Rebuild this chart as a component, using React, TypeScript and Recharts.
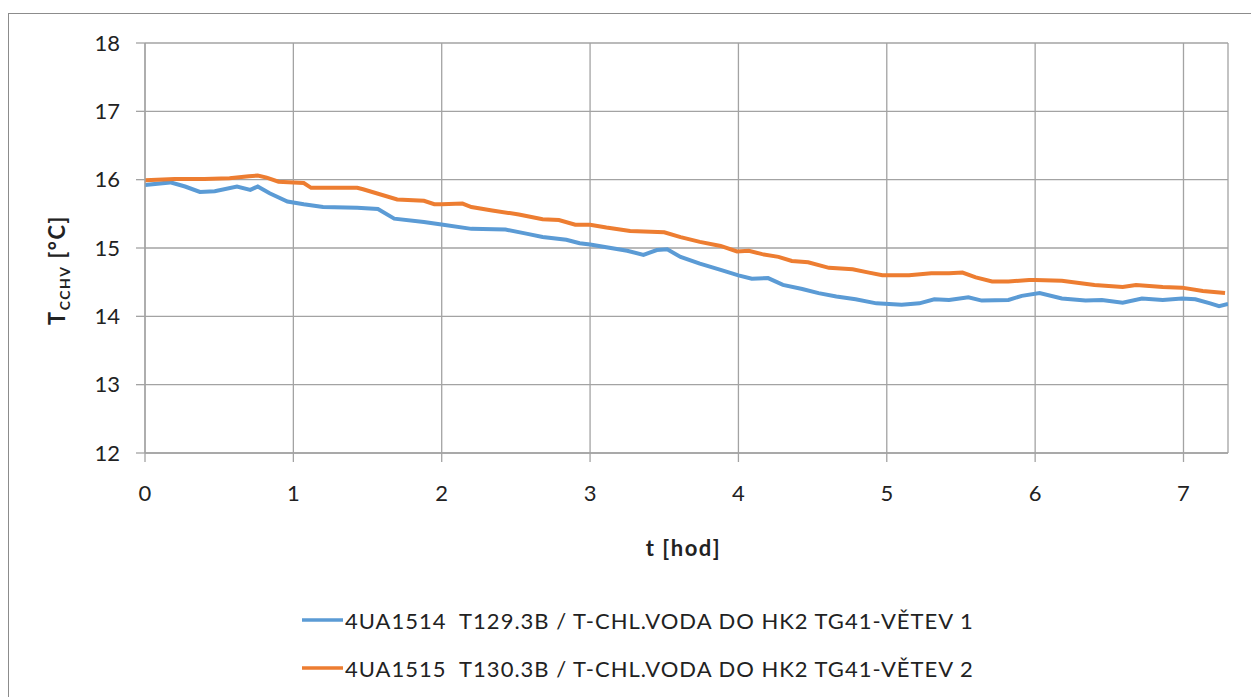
import React from "react";
import { LineChart, Line, XAxis, YAxis, CartesianGrid, Legend } from "recharts";

// Branch 1 (4UA1514): time in hours and chilled-water temperature in °C
const hoursBranch1 = [
  0, 0.17, 0.27, 0.37, 0.47, 0.62, 0.71, 0.76, 0.84, 0.96, 1.07, 1.2, 1.43, 1.57, 1.68,
  1.88, 2.01, 2.2, 2.43, 2.57, 2.68, 2.84, 2.93, 3.0, 3.11, 3.25, 3.36, 3.45, 3.52, 3.61,
  3.74, 3.88, 4.0, 4.09, 4.2, 4.3, 4.43, 4.54, 4.66, 4.79, 4.93, 5.1, 5.22, 5.32, 5.42,
  5.55, 5.64, 5.82, 5.91, 6.03, 6.18, 6.34, 6.45, 6.59, 6.72, 6.86, 6.99, 7.08, 7.18,
  7.24, 7.3,
];
const tempBranch1 = [
  15.92, 15.96, 15.9, 15.82, 15.83, 15.9, 15.85, 15.9, 15.8, 15.68, 15.64, 15.6, 15.59,
  15.57, 15.43, 15.38, 15.34, 15.28, 15.27, 15.21, 15.16, 15.12, 15.07, 15.05, 15.01,
  14.96, 14.9, 14.97, 14.98, 14.87, 14.77, 14.68, 14.6, 14.55, 14.56, 14.46, 14.4, 14.34,
  14.29, 14.25, 14.19, 14.17, 14.19, 14.25, 14.24, 14.28, 14.23, 14.24, 14.3, 14.34,
  14.26, 14.23, 14.24, 14.2, 14.26, 14.24, 14.26, 14.25, 14.19, 14.15, 14.18,
];

// Branch 2 (4UA1515)
const hoursBranch2 = [
  0, 0.2, 0.4, 0.57, 0.7, 0.76, 0.82, 0.9, 1.0, 1.07, 1.12, 1.43, 1.47, 1.7, 1.88, 1.95,
  2.0, 2.14, 2.2, 2.34, 2.52, 2.68, 2.79, 2.9, 3.0, 3.11, 3.27, 3.5, 3.61, 3.74, 3.88,
  3.99, 4.07, 4.16, 4.27, 4.36, 4.47, 4.61, 4.77, 4.88, 4.97, 5.15, 5.3, 5.42, 5.51, 5.6,
  5.71, 5.82, 5.96, 6.0, 6.18, 6.4, 6.59, 6.68, 6.86, 6.99, 7.13, 7.28,
];
const tempBranch2 = [
  15.99, 16.01, 16.01, 16.02, 16.05, 16.06, 16.03, 15.97, 15.96, 15.95, 15.88, 15.88,
  15.86, 15.71, 15.69, 15.64, 15.64, 15.65, 15.6, 15.55, 15.49, 15.42, 15.41, 15.34,
  15.34, 15.3, 15.25, 15.23, 15.16, 15.09, 15.03, 14.95, 14.96, 14.91, 14.87, 14.81,
  14.79, 14.71, 14.69, 14.64, 14.6, 14.6, 14.63, 14.63, 14.64, 14.57, 14.51, 14.51,
  14.53, 14.53, 14.52, 14.46, 14.43, 14.46, 14.43, 14.42, 14.37, 14.34,
];

const xTicks = [0, 1, 2, 3, 4, 5, 6, 7];
const yTicks = [12, 13, 14, 15, 16, 17, 18];

const seriesNames = [
  "4UA1514  T129.3B / T-CHL.VODA DO HK2 TG41-VĚTEV 1",
  "4UA1515  T130.3B / T-CHL.VODA DO HK2 TG41-VĚTEV 2",
];
const seriesColors = ["#5b9bd5", "#ed7d31"];

const branch1 = hoursBranch1.map((t, i) => ({ t, v: tempBranch1[i] }));
const branch2 = hoursBranch2.map((t, i) => ({ t, v: tempBranch2[i] }));

const FONT = "Lato, 'Open Sans', sans-serif";
const GRID = "#a3a3a3";
const TEXT = "#222222";

const YTitle = () => (
  <text
    transform="translate(65, 270) rotate(-90)"
    textAnchor="middle"
    fontFamily={FONT}
    fontWeight="bold"
    fontSize={22}
    letterSpacing={1.5}
    fill={TEXT}
  >
    T
    <tspan fontSize={14} dy={5}>
      CCHV
    </tspan>
    <tspan dy={-5}> [°C]</tspan>
  </text>
);

const XTitle = (props: any) => {
  const vb = props.viewBox;
  return (
    <text
      x={vb.x + vb.width / 2 - 3}
      y={556}
      textAnchor="middle"
      fontFamily={FONT}
      fontWeight="bold"
      fontSize={22}
      letterSpacing={1.5}
      fill={TEXT}
    >
      t [hod]
    </text>
  );
};

const LegendBox = () => (
  <div style={{ fontFamily: FONT, fontSize: 22, letterSpacing: 1, color: TEXT }}>
    {seriesNames.map((name, i) => (
      <div
        key={name}
        style={{ display: "flex", alignItems: "center", height: 48, whiteSpace: "pre" }}
      >
        <svg width={43} height={6} style={{ display: "block" }}>
          <line x1={0} y1={3} x2={41} y2={3} stroke={seriesColors[i]} strokeWidth={3.5} />
        </svg>
        <span>{name}</span>
      </div>
    ))}
  </div>
);

export default function App() {
  return (
    <div style={{ position: "absolute", left: 0, top: 0, width: 1251, height: 697, overflow: "hidden" }}>
      <div
        style={{
          position: "absolute",
          left: 8,
          top: 13,
          width: 1260,
          height: 700,
          borderLeft: "1px solid #8c8c8c",
          borderTop: "1px solid #8c8c8c",
          boxSizing: "border-box",
        }}
      />
      <div style={{ position: "absolute", left: 0, top: 0 }}>
        <LineChart
          width={1251}
          height={697}
          margin={{ top: 43, right: 23, bottom: 184, left: 0 }}
        >
          <CartesianGrid stroke={GRID} strokeWidth={1.3} />
          <XAxis
            type="number"
            dataKey="t"
            domain={[0, 7.3]}
            ticks={xTicks}
            allowDataOverflow
            height={60}
            stroke={GRID}
            strokeWidth={1.3}
            tickSize={9}
            tickMargin={23}
            tick={{ fill: TEXT, fontSize: 22, fontFamily: FONT }}
            label={{ content: (p: any) => <XTitle {...p} /> }}
          />
          <YAxis
            type="number"
            domain={[12, 18]}
            ticks={yTicks}
            width={145}
            stroke={GRID}
            strokeWidth={1.3}
            tickSize={9}
            tickMargin={16}
            tick={{ fill: TEXT, fontSize: 22, fontFamily: FONT }}
            label={{ content: () => <YTitle /> }}
          />
          <Line
            data={branch1}
            dataKey="v"
            name={seriesNames[0]}
            type="linear"
            stroke={seriesColors[0]}
            strokeWidth={4}
            dot={false}
            isAnimationActive={false}
          />
          <Line
            data={branch2}
            dataKey="v"
            name={seriesNames[1]}
            type="linear"
            stroke={seriesColors[1]}
            strokeWidth={4}
            dot={false}
            isAnimationActive={false}
          />
          <Legend
            layout="vertical"
            align="center"
            verticalAlign="middle"
            content={() => <LegendBox />}
            wrapperStyle={{ left: 302, top: 596, width: 940 }}
          />
        </LineChart>
      </div>
    </div>
  );
}
